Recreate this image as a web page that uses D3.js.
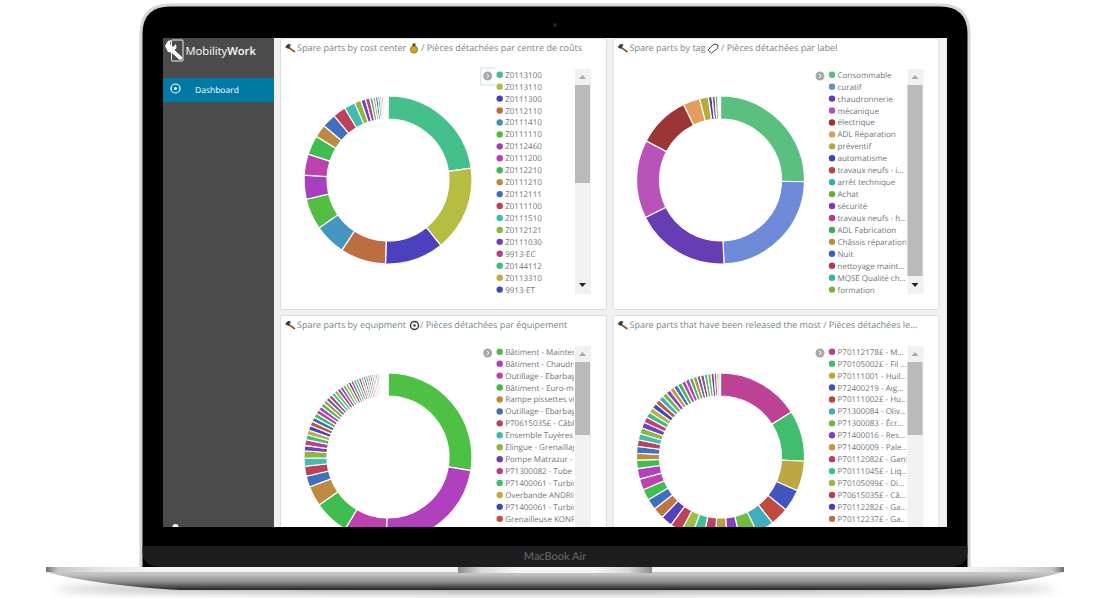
<!DOCTYPE html>
<html>
<head>
<meta charset="utf-8">
<script src="https://cdn.jsdelivr.net/npm/d3@7"></script>
<style>
  html, body { margin: 0; background: #fff; overflow: hidden; }
  svg { display: block; }
  text { font-family: "Open Sans", sans-serif; text-rendering: geometricPrecision; }
</style>
</head>
<body>
<div id="chart"></div>
<script>
// chart values (share of the ring, in %)
const costLabels = ["Z0113100","Z0113110","Z0111300","Z0112110","Z0111410","Z0111110","Z0112460","Z0111200","Z0112210","Z0111210","Z0112111","Z0111100","Z0111510","Z0112121","Z0111030","9913-EC","Z0144112","Z0113310","9913-ET"];
const costValues = [22.8,16.5,11.3,8.8,6.1,6,4.6,4.1,3.7,2.5,2.7,2.5,2.15,1.25,0.9,0.85,0.6,0.5,0.45,0.4,0.35,0.3,0.25,0.2,0.15,0.1,0.1,0.1];
const costColors = ["#3fbf8a","#b5bc3d","#473cbc","#bd6a3e","#3f94bc","#50bc3d","#a63cbc","#bc3dac","#3dbc4c","#bc883d","#3d6ebc","#bc3d58","#3dbcad","#8cb53a","#6b3dbc","#bc3d7f","#3dbc7e","#bcad3d","#3d45bc"];

const tagLabels = ["Consommable","curatif","chaudronnerie","mécanique","électrique","ADL Réparation","préventif","automatisme","travaux neufs - i...","arrêt technique","Achat","sécurité","travaux neufs - h...","ADL Fabrication","Châssis réparation","Nuit","nettoyage maint...","MQSE Qualité ch...","formation"];
const tagValues = [25.2,23.9,18.2,15,10,3.2,1.7,0.7,0.6,0.5,0.1,0.08,0.07,0.06,0.05,0.05,0.04,0.03,0.02];
const tagColors = ["#57bf7d","#6b88d8","#6339b0","#b84fb8","#9a3232","#e09c58","#b8a83a","#3a49b5","#b8443a","#3aa9b8","#5fb035","#8a35b0","#b835a0","#35b05a","#b8903a","#3a60b5","#b8354a","#35b5b0","#80b035"];

const equipLabels = ["Bâtiment - Mainten","Bâtiment - Chaudro","Outillage - Ebarbage","Bâtiment - Euro-mé","Rampe pissettes vir","Outillage - Ebarbage","P70615035£ - Câble","Ensemble Tuyères (","Elingue - Grenaillag","Pompe Matrazur - C","P71300082 - Tube 1","P71400061 - Turbin","Overbande ANDRIN","P71400061 - Turbin","Grenailleuse KONR/"];
const equipValues = [27.2,22.4,8.1,6.7,3.8,2.1,1.9,1.5,1.4,1,1.1,0.95,0.92,0.9,0.88,0.85,0.83,0.8,0.78,0.76,0.74,0.72,0.7,0.68,0.66,0.64,0.62,0.6,0.58,0.56,0.54,0.52,0.5,0.48,0.46,0.44,0.42,0.4,0.38,0.36,0.34,0.32,0.3,0.28,0.26,0.24,0.22,0.2,0.18,0.15,0.12,0.1];
const equipColors = ["#4abf3f","#ae3cbc","#bc3dac","#3dbc4c","#bc883d","#3d6ebc","#bc3d58","#3dbcad","#8cb53a","#6b3dbc","#bc3d7f","#3dbc7e","#bcad3d","#3d45bc","#bc543d"];

const releasedLabels = ["P70112178£ - M...","P70105002£ - Fil ...","P70111001 - Huil...","P72400219 - Aig...","P70111002£ - Hu...","P71300084 - Oliv...","P71300083 - Écr...","P71400016 - Res...","P71400009 - Pale...","P70112082£ - Gant","P70111045£ - Liq...","P70105099£ - Di...","P70615035£ - Câ...","P70112282£ - Ga...","P70112237£ - Ga..."];
const releasedValues = [15.8,9.7,5.7,4.2,3.5,3.4,3.4,2.4,2.3,2.3,2.2,2.2,2.2,2.2,2.1,2.1,2.1,2.1,2,1.6,1.3,1.3,1.25,1.2,1.15,1.1,1.1,1.05,1,1,0.95,0.95,0.9,0.9,0.85,0.85,0.85,0.8,0.8,0.75,0.75,0.7,0.7,0.65,0.65,0.6,0.5,0.4,0.3];
const releasedColors = ["#bc3d92","#3dbc6b","#bca53d","#3d54bc","#bc473d","#3dacbc","#6bbc3d","#853dbc","#bc9a3d","#bc3d60","#3dbc97","#9cbc3d","#bc3d55","#503dbc","#bc723d"];

// colours the slices past the legend keep cycling through
const tailColors = ["#3d6ebc","#3dbc4c","#bc3dac","#ae3cbc","#3dbc4c","#bc883d","#3d6ebc","#bc3d58","#3dbcad","#8cb53a","#6b3dbc","#bc3d7f","#3dbc7e","#bcad3d","#3d45bc","#bc543d","#3dacbc","#63bc3d","#923dbc","#bc9a3d"];

const width = 1110;
const height = 598;

const svg = d3.select("#chart").append("svg")
    .attr("width", width)
    .attr("height", height);

const defs = svg.append("defs");

function vertical(id, stops) {
    const g = defs.append("linearGradient").attr("id", id).attr("x1", 0).attr("x2", 0).attr("y1", 0).attr("y2", 1);
    stops.forEach(s => g.append("stop").attr("offset", s[0]).attr("stop-color", s[1]));
}
function horizontal(id, stops) {
    const g = defs.append("linearGradient").attr("id", id);
    stops.forEach(s => g.append("stop").attr("offset", s[0]).attr("stop-color", s[1]));
}
vertical("baseFill", [[0, "#d4d4d4"], [0.3, "#bdbdbd"], [0.65, "#858585"], [0.85, "#4c4c4c"], [1, "#222"]]);
horizontal("lipFill", [[0, "#707070"], [0.012, "#c8c8c8"], [0.05, "#e2e2e2"], [0.1, "#f4f4f4"], [0.9, "#f4f4f4"], [0.95, "#e2e2e2"], [0.988, "#c8c8c8"], [1, "#707070"]]);
horizontal("notchFill", [[0, "#8c8c8c"], [0.12, "#d9d9d9"], [0.3, "#f4f4f4"], [0.7, "#f4f4f4"], [0.88, "#d9d9d9"], [1, "#8c8c8c"]]);
defs.append("filter").attr("id", "blur").attr("x", "-10%").attr("y", "-200%").attr("width", "120%").attr("height", "500%")
    .append("feGaussianBlur").attr("stdDeviation", 4);
defs.append("clipPath").attr("id", "screenClip")
    .append("rect").attr("x", 163).attr("y", 38).attr("width", 784).attr("height", 489);

// laptop body
svg.append("ellipse").attr("cx", 555).attr("cy", 589).attr("rx", 500).attr("ry", 4)
    .attr("fill", "#999").attr("filter", "url(#blur)");
svg.append("path")
    .attr("d", "M46,569 L1064,569 L1064,572 C1030,581 985,587 930,590 L180,590 C125,587 80,581 46,572 Z")
    .attr("fill", "url(#baseFill)");
svg.append("rect").attr("x", 46).attr("y", 567).attr("width", 1018).attr("height", 5)
    .attr("fill", "url(#lipFill)");
svg.append("rect").attr("x", 458).attr("y", 567).attr("width", 194).attr("height", 6)
    .attr("fill", "url(#notchFill)");
svg.append("path")
    .attr("d", "M141,567 L141,34 Q141,5 170,5 L940,5 Q969,5 969,34 L969,567")
    .attr("fill", "#000").attr("stroke", "#d6d6d6").attr("stroke-width", 3);
svg.append("path")
    .attr("d", "M142.5,546 L967.5,546 L967.5,552 C967.5,561 961,567 950,567 L160,567 C149,567 142.5,561 142.5,552 Z")
    .attr("fill", "#1c1d1f");
svg.append("circle").attr("cx", 555).attr("cy", 25).attr("r", 2).attr("fill", "#1b2230");
svg.append("text").attr("x", 555).attr("y", 560).attr("text-anchor", "middle")
    .style("font-family", "Lato").style("font-size", "11px").attr("fill", "#6a6a6a").text("MacBook Air");

// app screen
const screen = svg.append("g").attr("clip-path", "url(#screenClip)");
screen.append("rect").attr("x", 163).attr("y", 38).attr("width", 784).attr("height", 489).attr("fill", "#f1f1f1");
screen.append("rect").attr("x", 163).attr("y", 38).attr("width", 111).attr("height", 489).attr("fill", "#4b4b4b");
screen.append("rect").attr("x", 163).attr("y", 78).attr("width", 111).attr("height", 24).attr("fill", "#0079a5");

// logo
screen.append("rect").attr("x", 171.5).attr("y", 40).attr("width", 11.5).attr("height", 21).attr("rx", 1)
    .attr("fill", "none").attr("stroke", "#fff").attr("stroke-width", 0.9);
screen.append("path")
    .attr("d", "M165,46 L168,41 L171,40 L170,44 L173,47 L176,44 L176.5,48 L174.5,50 L182,57 L182,59.5 L179,59.5 L171.5,52.5 L168,52 Z")
    .attr("fill", "#fff");
screen.append("text").attr("x", 185.5).attr("y", 54.5).attr("fill", "#fff").style("font-size", "11.2px")
    .html('Mobility<tspan font-weight="600">Work</tspan>');
screen.append("circle").attr("cx", 175.5).attr("cy", 88.5).attr("r", 4.5).attr("fill", "none").attr("stroke", "#fff").attr("stroke-width", 1.2);
screen.append("circle").attr("cx", 175.5).attr("cy", 88.5).attr("r", 1.5).attr("fill", "#fff");
screen.append("text").attr("x", 195).attr("y", 93).attr("fill", "#fff").style("font-size", "8.5px").text("Dashboard");
screen.append("circle").attr("cx", 175.5).attr("cy", 527).attr("r", 3).attr("fill", "#fff");

function hammer(g, x, y) {
    g.append("line").attr("x1", x + 3).attr("y1", y - 1).attr("x2", x + 10).attr("y2", y + 4)
        .attr("stroke", "#8a5a24").attr("stroke-width", 1.6);
    g.append("path").attr("d", `M${x},${y - 1} L${x + 3},${y - 4} L${x + 6},${y - 3.5} L${x + 3.5},${y + 1} Z`)
        .attr("fill", "#3a3a3a");
}

function panel(opts) {
    const { x, y, h, title, labels, values, colors, thumb, focus } = opts;
    const g = screen.append("g");
    g.append("rect").attr("x", x + 0.5).attr("y", y + 0.5).attr("width", 326).attr("height", h).attr("rx", 2)
        .attr("fill", "#fff").attr("stroke", "#dcdcdc");

    hammer(g, x + 5, y + 10);
    g.append("text").attr("x", x + 17).attr("y", y + 13).attr("fill", "#75868a")
        .style("font-size", "9px").text(title);
    opts.icon(g);

    // donut
    const cx = x + 108;
    const cy = y + 142;
    const pie = d3.pie().sort(null).value(d => d);
    const arc = d3.arc().innerRadius(61).outerRadius(84);
    const rim = d3.arc().innerRadius(83.2).outerRadius(84);
    const color = i => i < colors.length ? colors[i] : tailColors[(i - colors.length) % tailColors.length];
    const ring = g.append("g").attr("transform", `translate(${cx},${cy})`);
    const slices = pie(values);
    ring.selectAll("path.rim").data(slices).enter().append("path")
        .attr("class", "rim")
        .attr("d", rim)
        .attr("fill", (d, i) => d3.color(color(i)).darker(0.5));
    ring.selectAll("path.slice").data(slices).enter().append("path")
        .attr("class", "slice")
        .attr("d", arc)
        .attr("fill", (d, i) => color(i))
        .attr("fill-opacity", 0.98)
        .attr("stroke", "#fff")
        .attr("stroke-width", 1.2);

    // legend, cut off where the scrollbar starts
    const lx = x + opts.legendX;
    const clipId = "legend" + x + y;
    defs.append("clipPath").attr("id", clipId)
        .append("rect").attr("x", lx - 5).attr("y", y).attr("width", x + 294 - lx + 5).attr("height", h);
    const legend = g.append("g").attr("clip-path", `url(#${clipId})`);
    const item = legend.selectAll("g").data(labels).enter().append("g")
        .attr("transform", (d, i) => `translate(${lx},${y + 36.7 + i * 11.94})`);
    item.append("circle").attr("r", 3.2).attr("fill", (d, i) => colors[i]);
    item.append("text").attr("x", 5.5).attr("y", 3).attr("fill", "#6f7678").style("font-size", "8px").text(d => d);

    // chevron button
    const bx = lx - 12;
    const by = y + 38;
    if (focus) {
        g.append("path").attr("d", `M${bx + 8},${by - 8} L${bx - 7},${by - 8} L${bx - 7},${by + 9} L${bx + 8},${by + 9}`)
            .attr("fill", "none").attr("stroke", "#bcdcec").attr("stroke-width", 0.8);
    }
    g.append("circle").attr("cx", bx).attr("cy", by).attr("r", 4.5).attr("fill", "#a9a9a9");
    g.append("path").attr("d", `M${bx - 1},${by - 2} L${bx + 1.2},${by} L${bx - 1},${by + 2}`)
        .attr("fill", "none").attr("stroke", "#fff").attr("stroke-width", 1);

    // scrollbar
    const sx = x + 295;
    g.append("rect").attr("x", sx).attr("y", y + 31).attr("width", 16).attr("height", 225).attr("fill", "#f1f1f1");
    g.append("rect").attr("x", sx).attr("y", y + 47).attr("width", 15).attr("height", thumb).attr("fill", "#bababa");
    g.append("path").attr("d", `M${sx + 4},${y + 41} L${sx + 11},${y + 41} L${sx + 7.5},${y + 37} Z`).attr("fill", "#a8a8a8");
    g.append("path").attr("d", `M${sx + 4},${y + 245} L${sx + 11},${y + 245} L${sx + 7.5},${y + 249} Z`).attr("fill", "#222");
}

panel({
    x: 280, y: 38, h: 271, thumb: 98, focus: true, legendX: 219.7,
    title: "Spare parts by cost center",
    labels: costLabels, values: costValues, colors: costColors,
    icon: g => {
        g.append("circle").attr("cx", 414).attr("cy", 49.5).attr("r", 3.6).attr("fill", "#d9a21b").attr("stroke", "#5c4510").attr("stroke-width", 0.6);
        g.append("rect").attr("x", 412.5).attr("y", 43.5).attr("width", 3).attr("height", 2.5).attr("fill", "#5c4510");
        g.append("text").attr("x", 421).attr("y", 51).attr("fill", "#75868a").style("font-size", "9px").text("/ Pièces détachées par centre de coûts");
    }
});
panel({
    x: 612.5, y: 38, h: 271, thumb: 191, legendX: 219.5,
    title: "Spare parts by tag",
    labels: tagLabels, values: tagValues, colors: tagColors,
    icon: g => {
        g.append("path").attr("d", "M708,50 L714,44 L718,45 L717.5,48.5 L711.5,53 Z").attr("fill", "#fff").attr("stroke", "#333").attr("stroke-width", 0.9);
        g.append("text").attr("x", 721).attr("y", 51).attr("fill", "#75868a").style("font-size", "9px").text("/ Pièces détachées par label");
    }
});
panel({
    x: 280, y: 315, h: 271, thumb: 73, legendX: 219.7,
    title: "Spare parts by equipment",
    labels: equipLabels, values: equipValues, colors: equipColors,
    icon: g => {
        g.append("circle").attr("cx", 414.5).attr("cy", 325.5).attr("r", 4).attr("fill", "#fff").attr("stroke", "#333").attr("stroke-width", 1.4);
        g.append("circle").attr("cx", 414.5).attr("cy", 325.5).attr("r", 1.2).attr("fill", "#333");
        g.append("text").attr("x", 420).attr("y", 328).attr("fill", "#75868a").style("font-size", "9px").text("/ Pièces détachées par équipement");
    }
});
panel({
    x: 612.5, y: 315, h: 271, thumb: 73, legendX: 219.5,
    title: "Spare parts that have been released the most / Pièces détachées le...",
    labels: releasedLabels, values: releasedValues, colors: releasedColors,
    icon: g => {}
});
</script>
</body>
</html>
